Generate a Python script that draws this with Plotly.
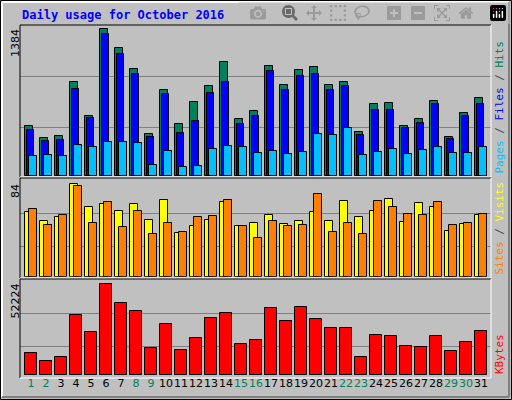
import plotly.graph_objects as go

days = list(range(1, 32))
hits = [469, 355, 374, 884, 563, 1384, 1205, 1006, 393, 808, 487, 695, 846, 1072, 535, 610,
        1035, 855, 997, 1025, 855, 884, 412, 676, 686, 469, 535, 704, 365, 591, 733]
files = [431, 327, 337, 818, 544, 1337, 1148, 959, 365, 771, 403, 516, 780, 884, 487, 563,
         988, 808, 940, 959, 808, 846, 384, 620, 620, 450, 497, 676, 346, 563, 676]
pages = [186, 195, 186, 289, 270, 318, 318, 308, 101, 233, 82, 91, 252, 280, 270, 214,
         233, 204, 223, 393, 384, 450, 195, 223, 252, 204, 242, 270, 214, 214, 270]
visits = [59, 51, 54, 84, 63, 66, 60, 66, 52, 70, 40, 46, 52, 68, 46, 49,
          56, 48, 51, 59, 51, 69, 54, 60, 71, 50, 67, 63, 42, 48, 56]
sites = [62, 47, 56, 83, 49, 68, 45, 60, 39, 49, 41, 54, 55, 70, 46, 35,
         51, 46, 47, 75, 41, 49, 39, 69, 63, 57, 56, 68, 47, 49, 57]
kbytes = [12626, 8035, 10330, 34434, 24678, 52224, 41321, 36730, 15496, 29269, 14348, 21234,
          32712, 35582, 17791, 20087, 38451, 30991, 39025, 32138, 26973, 26973, 10330, 22956,
          22382, 16643, 16069, 22382, 13774, 18939, 25252]
weekend = [1, 2, 8, 9, 15, 16, 22, 23, 29, 30]
max_hits, max_visits, max_kb = 1384, 84, 52224

W, H = 512, 400
px = lambda v: v / W
py = lambda v: 1 - v / H
GREEN, BLUE, CYAN = "#00805C", "#0000FF", "#00C0FF"
YEL, ORG, RED = "#FFFF00", "#FF8000", "#FF0000"

fig = go.Figure()
def bar(y, color, off, wid, ax):
    fig.add_trace(go.Bar(x=days, y=y, offset=off, width=wid, xaxis="x" + ax, yaxis="y" + ax,
                         marker=dict(color=color, line=dict(color="black", width=1)),
                         showlegend=False))

bar(hits, GREEN, -0.38, 0.51, "")
bar(files, BLUE, -0.29, 0.52, "")
bar(pages, CYAN, -0.12, 0.51, "")
bar(visits, YEL, -0.38, 0.5, "2")
bar(sites, ORG, -0.12, 0.51, "2")
bar(kbytes, RED, -0.38, 0.76, "3")

xr = [0.27, 31.67]
ticktext = ['<span style="color:%s">%d</span>' % (GREEN if d in weekend else "black", d) for d in days]
xcommon = dict(range=xr, showgrid=False, zeroline=False, fixedrange=True)
ycommon = dict(showticklabels=False, gridcolor="#808080", gridwidth=1, zeroline=False, ticks="")
fig.update_layout(
    width=W, height=H, margin=dict(l=0, r=0, t=0, b=0),
    paper_bgcolor="#C0C0C0", plot_bgcolor="#C0C0C0", barmode="overlay", bargap=0,
    xaxis=dict(domain=[px(20), px(491)], anchor="y", showticklabels=False, **xcommon),
    xaxis2=dict(domain=[px(20), px(491)], anchor="y2", showticklabels=False, **xcommon),
    xaxis3=dict(domain=[px(20), px(491)], anchor="y3", tickvals=days, ticktext=ticktext,
                tickangle=0, automargin=False,
                tickfont=dict(family="DejaVu Sans", size=11), ticks="", **xcommon),
    yaxis=dict(domain=[py(176), py(25)], range=[0, max_hits * 151 / 146.7],
               tickvals=[max_hits * 0.334, max_hits * 0.678], **ycommon),
    yaxis2=dict(domain=[py(276.7), py(180)], range=[0, max_visits * 96.7 / 92.3],
                tickvals=[max_visits * 0.33, max_visits * 0.687], **ycommon),
    yaxis3=dict(domain=[py(375.3), py(280)], range=[0, max_kb * 95.3 / 91],
                tickvals=[max_kb * 0.322, max_kb * 0.681], **ycommon),
)

shapes = []
def bevel(x0, y0, x1, y1, tl, br, w=1):
    shapes.append(dict(type="line", xref="paper", yref="paper", x0=px(x0), y0=py(y0), x1=px(x1), y1=py(y0), line=dict(color=tl, width=w)))
    shapes.append(dict(type="line", xref="paper", yref="paper", x0=px(x0), y0=py(y0), x1=px(x0), y1=py(y1), line=dict(color=tl, width=w)))
    shapes.append(dict(type="line", xref="paper", yref="paper", x0=px(x1), y0=py(y0), x1=px(x1), y1=py(y1), line=dict(color=br, width=w)))
    shapes.append(dict(type="line", xref="paper", yref="paper", x0=px(x0), y0=py(y1), x1=px(x1), y1=py(y1), line=dict(color=br, width=w)))
bevel(0.5, 0.5, 511.5, 399.5, "black", "black", 1)
bevel(2, 2, 509, 397, "white", "#808080", 2)
bevel(20, 25, 491, 177, "black", "white")
bevel(20, 178, 491, 278, "black", "white")
bevel(20, 279, 491, 378, "black", "white")
fig.update_layout(shapes=shapes)

mono = "DejaVu Sans Mono"
ann = [
    dict(x=px(20), y=py(15), text="<b>Daily usage for October 2016</b>", xanchor="left", yanchor="middle",
         font=dict(family=mono, size=12, color=BLUE)),
    dict(x=px(15), y=py(27), text=str(max_hits), textangle=-90, xanchor="center", yanchor="top",
         font=dict(family="DejaVu Sans", size=11, color="black")),
    dict(x=px(15), y=py(182), text=str(max_visits), textangle=-90, xanchor="center", yanchor="top",
         font=dict(family="DejaVu Sans", size=11, color="black")),
    dict(x=px(15), y=py(282), text=str(max_kb), textangle=-90, xanchor="center", yanchor="top",
         font=dict(family="DejaVu Sans", size=11, color="black")),
    dict(x=px(499), y=py(176), textangle=-90, xanchor="center", yanchor="bottom",
         text='<span style="color:%s">Pages</span> / <span style="color:%s">Files</span> / <span style="color:%s">Hits</span>' % (CYAN, BLUE, GREEN),
         font=dict(family=mono, size=11, color="#404040")),
    dict(x=px(499), y=py(277), textangle=-90, xanchor="center", yanchor="bottom",
         text='<span style="color:%s">Sites</span> / <span style="color:%s">Visits</span>' % (ORG, YEL),
         font=dict(family=mono, size=11, color="#404040")),
    dict(x=px(499), y=py(376), textangle=-90, xanchor="center", yanchor="bottom",
         text="KBytes", font=dict(family=mono, size=11, color=RED)),
]
for a in ann:
    a.update(xref="paper", yref="paper", showarrow=False)
fig.update_layout(annotations=ann)

fig.write_html("out.html", post_script="document.body.style.margin='0';window.dispatchEvent(new Event('resize'));")
